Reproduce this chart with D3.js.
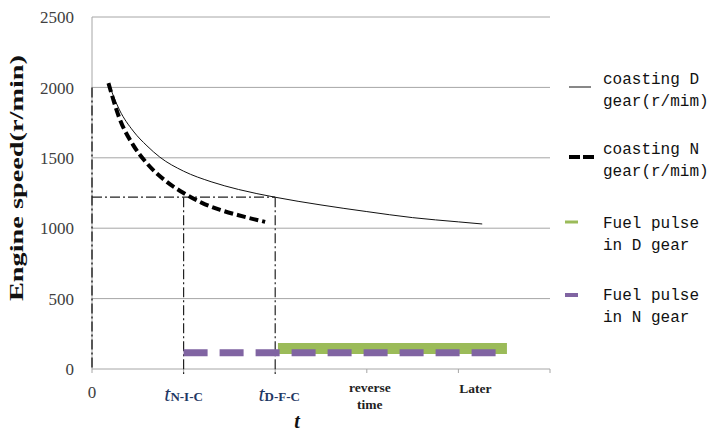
<!DOCTYPE html>
<html><head><meta charset="utf-8">
<script src="https://cdn.jsdelivr.net/npm/d3@7"></script>
<style>body{margin:0;background:#fff}svg{display:block}</style>
</head><body>
<svg id="c" width="708" height="433"></svg>
<script>
// ---- data ----
const yTicks = [0, 500, 1000, 1500, 2000, 2500];
const xTicks = [0, 1, 2, 3, 4, 5];
const dTime  = [0.18, 0.3, 0.45, 0.6, 0.74, 1.0, 1.3, 1.6, 2.0, 2.5, 3.0, 3.5, 4.0, 4.26];
const dSpeed = [2030, 1840, 1690, 1585, 1505, 1405, 1330, 1275, 1220, 1165, 1118, 1075, 1045, 1030];
const nTime  = [0.18, 0.3, 0.45, 0.6, 0.8, 1.0, 1.2, 1.4, 1.6, 1.89];
const nSpeed = [2030, 1780, 1590, 1460, 1338, 1250, 1180, 1130, 1092, 1045];
const fuelDTime = [2.03, 4.53], fuelDValue = [145, 145];
const fuelNTime = [1.0, 4.53],  fuelNValue = [115, 115];
const refLevel = 1220;
const refTimes = [1, 2];
const legendLabels = [["coasting D","gear(r/mim)"],["coasting N","gear(r/mim)"],["Fuel pulse","in D gear"],["Fuel pulse","in N gear"]];

// ---- scales ----
const svg = d3.select("#c");
const x = d3.scaleLinear().domain([0, 5]).range([92, 550]);
const y = d3.scaleLinear().domain([0, 2500]).range([369, 17]);

// gridlines
svg.append("g").selectAll("line").data(yTicks).join("line")
  .attr("x1", x(0)).attr("x2", x(5)).attr("y1", d => y(d)).attr("y2", d => y(d))
  .attr("stroke", "#a6a6a6").attr("stroke-width", 1);
// left axis line
svg.append("line").attr("x1", x(0)).attr("x2", x(0)).attr("y1", y(2500)).attr("y2", y(0))
  .attr("stroke", "#a6a6a6");
// x ticks
svg.append("g").selectAll("line").data(xTicks).join("line")
  .attr("x1", d => x(d)).attr("x2", d => x(d)).attr("y1", y(0)).attr("y2", y(0) + 4)
  .attr("stroke", "#a6a6a6");

// y tick labels
svg.append("g").selectAll("text").data(yTicks).join("text")
  .attr("x", 74).attr("y", d => y(d)).attr("dy", "0.36em").attr("text-anchor", "end")
  .attr("font-family", "Liberation Serif, serif").attr("font-size", 17).attr("fill", "#404040")
  .text(d => d);

// y axis title
svg.append("text").attr("transform", "translate(23,178) rotate(-90)")
  .attr("text-anchor", "middle").attr("font-family", "Liberation Serif, serif")
  .attr("font-weight", "bold").attr("font-size", 18).attr("fill", "#111")
  .attr("textLength", 246).attr("lengthAdjust", "spacingAndGlyphs")
  .text("Engine speed(r/min)");

// reference dash-dot lines
const dd = "10,3,2,3";
svg.append("line").attr("x1", x(0)).attr("x2", x(2)).attr("y1", y(refLevel)).attr("y2", y(refLevel))
  .attr("stroke", "#222").attr("stroke-width", 1.2).attr("stroke-dasharray", dd);
svg.append("line").attr("x1", x(0)).attr("x2", x(0)).attr("y1", y(2000)).attr("y2", y(0))
  .attr("stroke", "#222").attr("stroke-width", 1.4).attr("stroke-dasharray", dd);
svg.append("g").selectAll("line").data(refTimes).join("line")
  .attr("x1", d => x(d)).attr("x2", d => x(d)).attr("y1", y(refLevel)).attr("y2", y(0) + 5)
  .attr("stroke", "#222").attr("stroke-width", 1.2).attr("stroke-dasharray", dd);

// fuel pulses
const ln = d3.line().x(d => x(d[0])).y(d => y(d[1]));
svg.append("path").datum(d3.zip(fuelDTime, fuelDValue)).attr("d", ln)
  .attr("stroke", "#9bbb59").attr("stroke-width", 11).attr("fill", "none");
svg.append("path").datum(d3.zip(fuelNTime, fuelNValue)).attr("d", ln)
  .attr("stroke", "#8064a2").attr("stroke-width", 7).attr("fill", "none").attr("stroke-dasharray", "24,12");

// curves
const cl = d3.line().x(d => x(d[0])).y(d => y(d[1])).curve(d3.curveMonotoneX);
svg.append("path").datum(d3.zip(dTime, dSpeed)).attr("d", cl)
  .attr("stroke", "#111").attr("stroke-width", 1).attr("fill", "none");
svg.append("path").datum(d3.zip(nTime, nSpeed)).attr("d", cl)
  .attr("stroke", "#000").attr("stroke-width", 4).attr("fill", "none").attr("stroke-dasharray", "9,4");

// x labels
const tf = "Liberation Serif, serif";
svg.append("text").attr("x", x(0)).attr("y", 398).attr("text-anchor", "middle")
  .attr("font-family", tf).attr("font-size", 17).attr("fill", "#404040").text("0");
function tLabel(cx, sub) {
  const t = svg.append("text").attr("x", cx).attr("y", 401).attr("text-anchor", "middle")
    .attr("font-family", tf).attr("fill", "#1f3864");
  t.append("tspan").attr("font-style", "italic").attr("font-size", 22).text("t");
  t.append("tspan").attr("font-weight", "bold").attr("font-size", 13).text(sub);
}
tLabel(x(1), "N-I-C");
tLabel(x(2) + 4, "D-F-C");
svg.append("text").attr("x", x(3) + 3).attr("y", 392).attr("text-anchor", "middle")
  .attr("font-family", tf).attr("font-weight", "bold").attr("font-size", 13.5).attr("fill", "#222").text("reverse");
svg.append("text").attr("x", x(3) + 3).attr("y", 409).attr("text-anchor", "middle")
  .attr("font-family", tf).attr("font-weight", "bold").attr("font-size", 13.5).attr("fill", "#222").text("time");
svg.append("text").attr("x", x(4) + 17).attr("y", 393).attr("text-anchor", "middle")
  .attr("font-family", tf).attr("font-weight", "bold").attr("font-size", 13.5).attr("fill", "#222").text("Later");
svg.append("text").attr("x", 297).attr("y", 428).attr("text-anchor", "middle")
  .attr("font-family", tf).attr("font-style", "italic").attr("font-weight", "bold").attr("font-size", 20).attr("fill", "#111").text("t");

// legend
const lg = svg.append("g");
const lgY = [78, 148, 222, 294];
const sampleY = [87, 157, 222, 295];
lgY.forEach((yy, i) => {
  legendLabels[i].forEach((s, j) => {
    lg.append("text").attr("x", 603).attr("y", yy + j * 22).attr("dy", "0.35em")
      .attr("font-family", "Liberation Mono, monospace").attr("font-size", 16).attr("fill", "#111").text(s);
  });
});
lg.append("line").attr("x1", 569).attr("x2", 591).attr("y1", sampleY[0]).attr("y2", sampleY[0]).attr("stroke", "#111").attr("stroke-width", 1);
lg.append("line").attr("x1", 569).attr("x2", 594).attr("y1", sampleY[1]).attr("y2", sampleY[1]).attr("stroke", "#000").attr("stroke-width", 4).attr("stroke-dasharray", "11,3");
lg.append("line").attr("x1", 565).attr("x2", 578).attr("y1", sampleY[2]).attr("y2", sampleY[2]).attr("stroke", "#9bbb59").attr("stroke-width", 3);
lg.append("line").attr("x1", 565).attr("x2", 578).attr("y1", sampleY[3]).attr("y2", sampleY[3]).attr("stroke", "#8064a2").attr("stroke-width", 4);
</script>
</body></html>
